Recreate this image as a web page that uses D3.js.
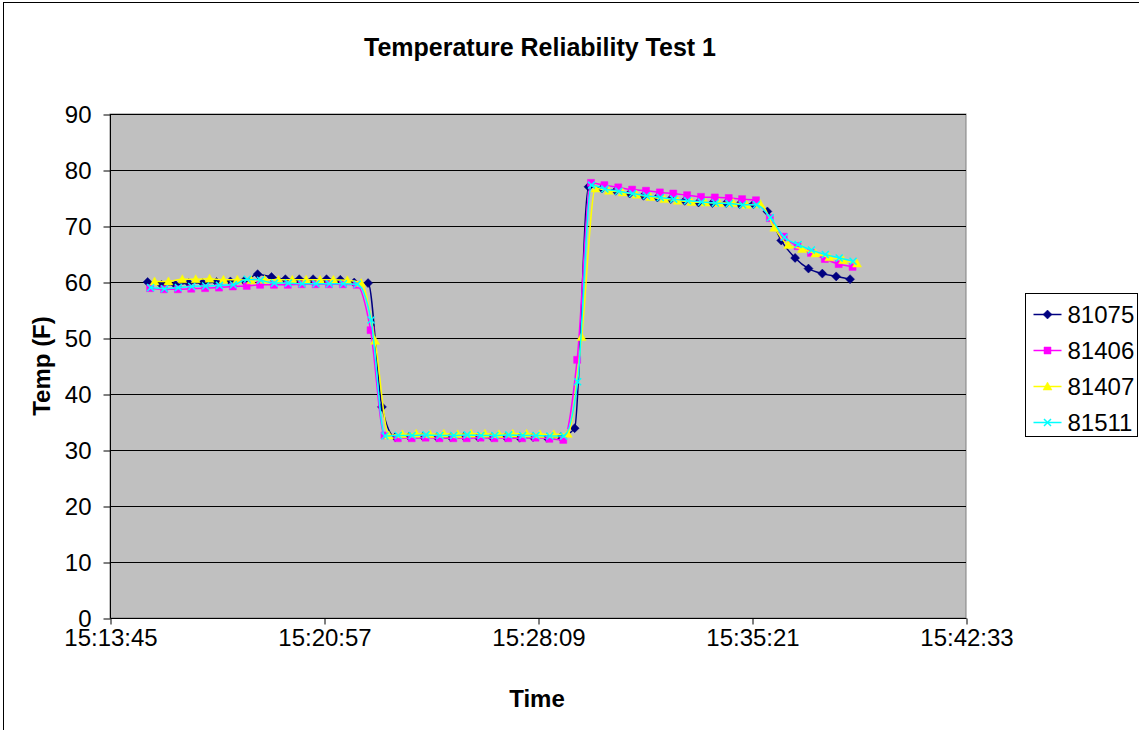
<!DOCTYPE html>
<html>
<head>
<meta charset="utf-8">
<script src="https://cdn.jsdelivr.net/npm/d3@7"></script>
<style>
    body { margin: 0; background: #ffffff; }
    svg { display: block; font-family: "Liberation Sans", Arial, sans-serif; }
</style>
</head>
<body>
<div id="chart"></div>
<script>
// sample times (81075 logger clock), other loggers lag a few seconds
var times = ["15:15:01","15:15:29","15:15:57","15:16:24","15:16:52","15:17:20","15:17:48","15:18:16","15:18:43","15:19:11",
    "15:19:39","15:20:07","15:20:35","15:21:02","15:21:30","15:21:58","15:22:26","15:22:54","15:23:21","15:23:49",
    "15:24:17","15:24:45","15:25:13","15:25:40","15:26:08","15:26:36","15:27:04","15:27:32","15:27:59","15:28:27",
    "15:28:55","15:29:23","15:29:51","15:30:18","15:30:46","15:31:14","15:31:42","15:32:10","15:32:37","15:33:05",
    "15:33:33","15:34:01","15:34:29","15:34:56","15:35:24","15:35:52","15:36:20","15:36:48","15:37:15","15:37:43",
    "15:38:11","15:38:39"];

var seriesNames = ["81075", "81406", "81407", "81511"];
var seriesLag = [0, 5, 14, 6]; // seconds

var s81075 = [60.0,59.5,59.5,59.8,59.8,60.0,60.1,60.2,61.4,60.9,60.5,60.5,60.5,60.5,60.4,59.9,59.8,37.7,
    32.3,32.4,32.4,32.3,32.3,32.4,32.3,32.3,32.3,32.2,32.3,32.2,32.3,33.9,
    77.0,76.7,76.3,75.8,75.4,75.1,74.8,74.5,74.2,74.1,74.1,73.9,73.9,72.6,67.4,64.3,62.4,61.5,61.0,60.5];
var s81406 = [58.9,58.7,58.7,58.8,58.9,59.0,59.2,59.3,59.5,59.5,59.5,59.6,59.6,59.6,59.6,59.5,51.4,32.6,
    32.1,32.1,32.2,32.1,32.1,32.1,32.2,32.1,32.1,32.1,32.2,32.0,31.8,46.1,
    77.7,77.3,76.9,76.5,76.3,76.0,75.8,75.5,75.2,75.1,75.0,74.8,74.6,71.4,68.1,66.4,65.2,64.1,63.2,62.7];
var s81407 = [60.1,60.1,60.5,60.5,60.6,60.4,60.4,60.3,60.4,60.4,60.4,60.4,60.4,60.4,60.3,59.8,49.5,32.6,
    32.8,32.9,32.8,32.9,32.8,32.9,32.9,32.8,32.9,32.9,32.8,32.8,32.9,50.2,
    76.7,76.3,76.0,75.6,75.2,74.8,74.5,74.3,74.2,74.1,74.1,73.8,73.9,69.7,66.6,65.9,65.1,64.4,63.9,63.3];
var s81511 = [59.0,58.8,59.0,59.2,59.3,59.4,59.5,60.5,60.3,59.8,59.8,59.7,59.7,59.7,59.7,59.6,53.2,32.5,
    32.6,32.6,32.7,32.6,32.6,32.7,32.6,32.6,32.7,32.6,32.6,32.5,32.5,42.2,
    77.3,76.6,76.2,75.8,75.4,75.1,74.8,74.5,74.3,74.1,74.0,73.8,73.8,71.5,68.0,66.7,65.7,64.9,64.3,63.7];

var xTickLabels = ["15:13:45", "15:20:57", "15:28:09", "15:35:21", "15:42:33"];
var yTicks = [0, 10, 20, 30, 40, 50, 60, 70, 80, 90];

var colors = ["#000080", "#ff00ff", "#ffff00", "#00ffff"];
var markers = ["diamond", "square", "triangle", "cross"];

function toSec(s) {
    var p = s.split(":");
    return (+p[0]) * 3600 + (+p[1]) * 60 + (+p[2]);
}
function fmt(sec) {
    var h = Math.floor(sec / 3600), m = Math.floor((sec % 3600) / 60), s = sec % 60;
    return h + ":" + (m < 10 ? "0" : "") + m + ":" + (s < 10 ? "0" : "") + s;
}

var svgwidth = 1139, svgheight = 730;
var plot = {left: 110, top: 114, right: 966, bottom: 618};
var fontSize = "24px";

var svg = d3.select("#chart").append("svg")
    .attr("width", svgwidth)
    .attr("height", svgheight);

// chart area border
svg.append("rect")
    .attr("x", 3.5).attr("y", 2.5)
    .attr("width", 1200).attr("height", 800)
    .attr("fill", "#ffffff")
    .attr("stroke", "#000000")
    .attr("stroke-width", 1);

var x = d3.scaleLinear()
    .domain([toSec(xTickLabels[0]), toSec(xTickLabels[xTickLabels.length - 1])])
    .range([plot.left, plot.right]);
var y = d3.scaleLinear()
    .domain([0, 90])
    .range([plot.bottom, plot.top]);

// plot area
svg.append("rect")
    .attr("x", plot.left).attr("y", plot.top)
    .attr("width", plot.right - plot.left).attr("height", plot.bottom - plot.top)
    .attr("fill", "#c0c0c0")
    .attr("stroke", "#808080");

// gridlines
svg.append("g").selectAll("line")
    .data(yTicks.slice(1))
    .enter().append("line")
    .attr("x1", plot.left).attr("x2", plot.right)
    .attr("y1", function(d) { return Math.round(y(d)) + 0.5; })
    .attr("y2", function(d) { return Math.round(y(d)) + 0.5; })
    .attr("stroke", "#000000")
    .attr("stroke-width", 1);

// axes
var yAxis = d3.axisLeft(y).tickValues(yTicks).tickSize(7).tickPadding(12);
var gy = svg.append("g")
    .attr("transform", "translate(" + (plot.left + 0.5) + ",0.5)")
    .call(yAxis);

var xAxis = d3.axisBottom(x)
    .tickValues(xTickLabels.map(toSec))
    .tickFormat(fmt)
    .tickSize(6).tickPadding(4);
var gx = svg.append("g")
    .attr("transform", "translate(0.5," + (plot.bottom + 0.5) + ")")
    .call(xAxis);

[gx, gy].forEach(function(g) {
    g.selectAll("path, line").attr("stroke", "#000000");
    g.selectAll("text").attr("font-size", fontSize).attr("fill", "#000000")
        .style("font-family", "Liberation Sans, Arial, sans-serif");
});
gy.selectAll("path").attr("d", "M0," + plot.top + "V" + plot.bottom);
gx.selectAll("path").attr("d", "M" + plot.left + ",0H" + plot.right);

// titles
svg.append("text")
    .attr("x", 540).attr("y", 56)
    .attr("text-anchor", "middle")
    .attr("font-size", "25px").attr("font-weight", "bold")
    .text("Temperature Reliability Test 1");
svg.append("text")
    .attr("x", 537).attr("y", 707)
    .attr("text-anchor", "middle")
    .attr("font-size", fontSize).attr("font-weight", "bold")
    .text("Time");
svg.append("text")
    .attr("transform", "translate(50,366) rotate(-90)")
    .attr("text-anchor", "middle")
    .attr("font-size", fontSize).attr("font-weight", "bold")
    .text("Temp (F)");

function markerPath(type) {
    if (type == "diamond") return "M0,-4.5L4.5,0L0,4.5L-4.5,0Z";
    if (type == "square") return "M-3.5,-3.5H3.5V3.5H-3.5Z";
    if (type == "triangle") return "M0,-4.5L4.5,3.5L-4.5,3.5Z";
    return "M-3.5,-3.5L3.5,3.5M3.5,-3.5L-3.5,3.5";
}

var allSeries = [s81075, s81406, s81407, s81511];
var line = d3.line()
    .x(function(d) { return x(d.t); })
    .y(function(d) { return y(d.v); })
    .curve(d3.curveMonotoneX);

allSeries.forEach(function(vals, k) {
    var pts = vals.map(function(v, i) { return {t: toSec(times[i]) + seriesLag[k], v: v}; });
    var g = svg.append("g").attr("class", "series");
    g.append("path")
        .datum(pts)
        .attr("d", line)
        .attr("fill", "none")
        .attr("stroke", colors[k])
        .attr("stroke-width", 1.5);
    g.selectAll("path.mk")
        .data(pts)
        .enter().append("path")
        .attr("class", "mk")
        .attr("transform", function(d) { return "translate(" + x(d.t) + "," + y(d.v) + ")"; })
        .attr("d", markerPath(markers[k]))
        .attr("fill", markers[k] == "cross" ? "none" : colors[k])
        .attr("stroke", colors[k])
        .attr("stroke-width", markers[k] == "cross" ? 1.5 : 0.5);
});

// legend
var legend = svg.append("g").attr("transform", "translate(1025.5,293.5)");
legend.append("rect")
    .attr("width", 112).attr("height", 143)
    .attr("fill", "#ffffff")
    .attr("stroke", "#000000");
seriesNames.forEach(function(name, k) {
    var ly = 21 + k * 36;
    var row = legend.append("g").attr("transform", "translate(0," + ly + ")");
    row.append("line")
        .attr("x1", 8).attr("x2", 36)
        .attr("stroke", colors[k]).attr("stroke-width", 1.5);
    row.append("path")
        .attr("transform", "translate(22,0)")
        .attr("d", markerPath(markers[k]))
        .attr("fill", markers[k] == "cross" ? "none" : colors[k])
        .attr("stroke", colors[k])
        .attr("stroke-width", markers[k] == "cross" ? 1.5 : 0.5);
    row.append("text")
        .attr("x", 42).attr("y", 0).attr("dy", "0.36em")
        .attr("font-size", fontSize)
        .text(name);
});
</script>
</body>
</html>
